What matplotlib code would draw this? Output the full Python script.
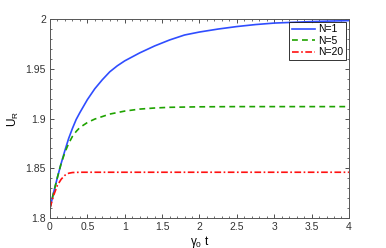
import numpy as np
import matplotlib
matplotlib.use("Agg")
import matplotlib.pyplot as plt
from matplotlib.ticker import MultipleLocator, FormatStrFormatter

plt.rcParams["font.family"] = ["Liberation Sans", "DejaVu Sans"]

# values
t_n1 = [0, 0.05, 0.1, 0.15, 0.2, 0.25, 0.3, 0.35, 0.4, 0.5, 0.6, 0.7, 0.8, 0.9, 1.0,
        1.2, 1.4, 1.6, 1.8, 2.0, 2.25, 2.5, 2.75, 3.0, 3.5, 4.0]
u_n1 = [1.810, 1.826, 1.841, 1.855, 1.868, 1.880, 1.890, 1.899, 1.906, 1.919, 1.930,
        1.939, 1.947, 1.953, 1.958, 1.966, 1.973, 1.979, 1.984, 1.987, 1.990, 1.9925,
        1.9945, 1.996, 1.9975, 1.9985]

t_n5 = [0, 0.05, 0.1, 0.15, 0.2, 0.25, 0.3, 0.35, 0.4, 0.5, 0.6, 0.7, 0.8, 0.9, 1.0,
        1.2, 1.4, 1.6, 2.0, 2.5, 4.0]
u_n5 = [1.810, 1.826, 1.841, 1.855, 1.866, 1.875, 1.882, 1.887, 1.891, 1.896, 1.8995,
        1.902, 1.9045, 1.906, 1.9075, 1.9095, 1.9106, 1.9113, 1.9118, 1.912, 1.912]

t_n20 = [0, 0.05, 0.1, 0.15, 0.2, 0.25, 0.3, 0.4, 0.6, 1.0, 4.0]
u_n20 = [1.810, 1.823, 1.833, 1.839, 1.843, 1.845, 1.8457, 1.846, 1.846, 1.846, 1.846]

xticks = [0, 0.5, 1, 1.5, 2, 2.5, 3, 3.5, 4]
yticks = [1.8, 1.85, 1.9, 1.95, 2.0]

fig = plt.figure(figsize=(3.86, 2.48), dpi=100)
ax = fig.add_axes([0.1295, 0.121, 0.7745, 0.802])

ax.plot(t_n1, u_n1, color="#2f4dff", lw=1.2, label="N=1")
ax.plot(t_n5, u_n5, color="#1fa300", lw=1.2, ls=(0, (3.5, 2.5)), label="N=5")
ax.plot(t_n20, u_n20, color="#ff1010", lw=1.2, ls=(0, (4, 1.5, 1, 1.5)), label="N=20")

ax.set_xlim(0, 4)
ax.set_ylim(1.8, 2.0)
ax.set_xticks(xticks)
ax.set_yticks(yticks)
ax.xaxis.set_major_formatter(FormatStrFormatter("%g"))
ax.yaxis.set_major_formatter(FormatStrFormatter("%g"))
ax.xaxis.set_minor_locator(MultipleLocator(0.1))
ax.yaxis.set_minor_locator(MultipleLocator(0.01))
ax.tick_params(which="both", direction="in", top=True, right=True, labelsize=7.5,
               colors="#333333", pad=3)
ax.tick_params(which="major", length=3, width=0.6)
ax.tick_params(which="minor", length=1.5, width=0.5)
for s in ax.spines.values():
    s.set_color("#555555")
    s.set_linewidth(0.7)

ax.set_xlabel("γ$_\\mathregular{0}$ t", fontsize=8.5, labelpad=1)
ax.set_ylabel("U$_\\mathregular{R}$", fontsize=8.5, labelpad=3)

leg = ax.legend(loc="upper right", fontsize=7.5, frameon=True, fancybox=False,
                borderpad=0.25, handlelength=2.3, handletextpad=0.3, labelspacing=0.15,
                borderaxespad=0.25)
leg.get_frame().set_edgecolor("black")
leg.get_frame().set_linewidth(0.7)

fig.savefig("out.png", dpi=100)
